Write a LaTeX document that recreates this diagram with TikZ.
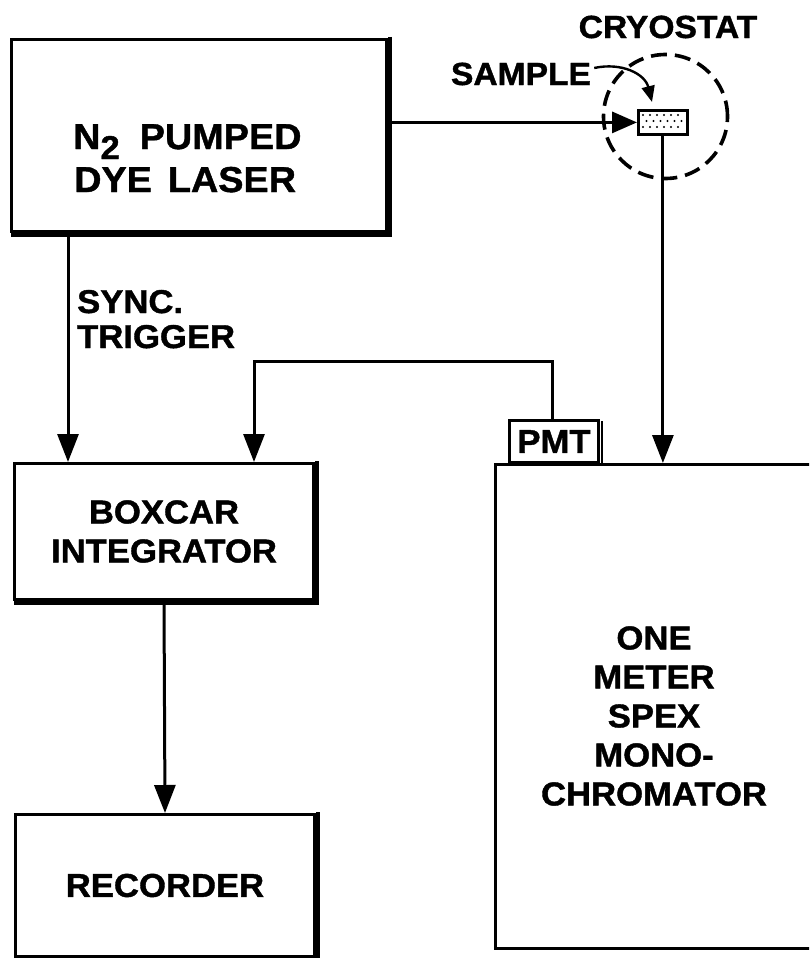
\documentclass[tikz,border=0pt]{standalone}
\usepackage{fontspec}
\setmainfont{Liberation Sans}[FakeStretch=1.05,FakeBold=1.2]
\usetikzlibrary{arrows.meta}
\newcommand\boxshade[1]{\draw[line width=3.4pt] ([xshift=2pt,yshift=1pt]#1.north east) -- ([xshift=2pt,yshift=-2pt]#1.south east) -- ([xshift=1pt,yshift=-2pt]#1.south west);}
\begin{document}
\begin{tikzpicture}[x=1pt,y=-1pt,
  box/.style={draw, line width=3pt, rectangle, anchor=north west, inner sep=0pt},
  lbl/.style={font=\bfseries\fontsize{33}{39}\selectfont, inner sep=0pt},
  biglbl/.style={font=\bfseries\fontsize{36}{42}\selectfont, inner sep=0pt},
  smlbl/.style={font=\bfseries\fontsize{32}{36}\selectfont, inner sep=0pt},
  conn/.style={line width=3pt, -{Triangle[length=28pt,width=21pt]}},
  beam/.style={line width=3.2pt, -{Triangle[length=25pt,width=21pt]}},
  ]
\useasboundingbox (0,0) rectangle (809,958);
\clip (0,0) rectangle (809,958);
\fill[white] (0,0) rectangle (809,958);

% boxes
\node[box, minimum width=375pt, minimum height=192pt] (laser) at (10,38) {};
\boxshade{laser}
\node[biglbl, anchor=base west] (laserA) at (73,149) {N\raisebox{-10pt}{\fontsize{33}{33}\selectfont 2}\hspace{20pt}PUMPED};
\node[biglbl, anchor=base west] (laserB) at (74,192) {DYE\hspace{16pt}LASER};

\node[box, lbl, align=center, minimum width=299pt, minimum height=136pt] (boxcar) at (13,462) {BOXCAR\\INTEGRATOR};
\boxshade{boxcar}

\node[box, lbl, minimum width=299pt, minimum height=142pt] (recorder) at (14,813) {RECORDER};
\boxshade{recorder}

\node[box, minimum width=400pt, minimum height=484pt] (mono) at (494,463) {};
\node[lbl, align=center] (monoT) at (654,716) {ONE\\METER\\SPEX\\MONO-\\CHROMATOR};

\node[box, lbl, minimum width=89pt, minimum height=42pt] (pmt) at (508,419) {PMT};
\draw[line width=2.8pt] ([xshift=2pt,yshift=-2pt]pmt.north east) -- ([xshift=2pt]pmt.south east);

% cryostat and sample
\node[draw, dash pattern=on 16pt off 8pt, line width=3.6pt, circle, minimum size=124pt, inner sep=0pt] (cryo) at (665.5,116.5) {};
\node[box, line width=2.8pt, minimum width=49pt, minimum height=24pt] (samp) at (637,109) {};
\foreach \j/\o in {0/0,1/3.5,2/0}
  \foreach \i in {0,...,5}
    \fill (643+\i*7+\o,115+\j*6) circle (1.1pt);

\node[smlbl, anchor=base] (cryoT) at (668,38) {CRYOSTAT};
\node[smlbl, anchor=base] (sampleT) at (521,85) {SAMPLE};

% connectors
\draw[beam] (laser.east |- samp.west) -- (samp.west);
\draw[line width=2.4pt, -{Triangle[length=16pt,width=13pt]}]
  ([xshift=3pt,yshift=6pt]sampleT.east) .. controls (622,62) and (645,74) .. ([xshift=15pt,yshift=7pt]samp.north west);
\draw[conn] (samp.south) -- (samp.south |- mono.north);

\coordinate (sync) at (68,230);
\draw[conn] (sync) -- (sync |- boxcar.north);
\node[lbl, anchor=base west] (syncA) at (77,313) {SYNC.};
\node[lbl, anchor=base west] (syncB) at (77,348) {TRIGGER};

\coordinate (fb) at (254,361);
\draw[conn] ([xshift=-2pt]pmt.north) |- (fb) -- (fb |- boxcar.north);

\draw[conn] (boxcar.south) -- (recorder.north);
\end{tikzpicture}
\end{document}
